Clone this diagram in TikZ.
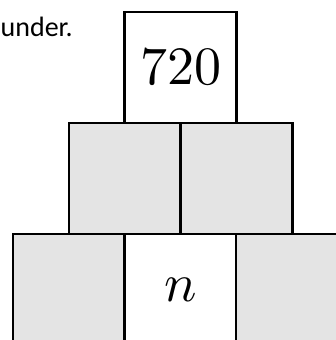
\documentclass[tikz,border=0pt]{standalone}
\usepackage{fontspec}
\usepackage{graphicx}
\usepackage{xcolor}
\newfontfamily\calfont{Carlito}
\definecolor{cellgrey}{HTML}{E4E4E4}
\newcommand{\cellmath}[1]{\scalebox{5.4}{$#1$}}
\usetikzlibrary{positioning}

\begin{document}
\begin{tikzpicture}[
      x=1pt, y=-1pt,
      cell/.style={draw, line width=2.6pt, minimum width=112pt,
                   minimum height=111pt, inner sep=0pt, outer sep=0pt},
      shaded/.style={cell, fill=cellgrey},
      plain/.style={cell, fill=white}]

    \useasboundingbox (0,0) rectangle (336,340);
    \clip (0,0) rectangle (336,340);

    % tail of the sentence above
    \node[anchor=base west, inner sep=0pt, font=\calfont\fontsize{28}{34}\selectfont]
      (txt) at (0.5,36) {under.};

    % bottom row
    \node[shaded] (b1) at (69,289.5) {};
    \node[plain]  (b2) at (180.5,289.5) {\cellmath{n}};
    \node[shaded] (b3) at (292,289.5) {};

    % middle row
    \node[shaded] (m1) at (125,178.5) {};
    \node[shaded] (m2) at (236.5,178.5) {};

    % top
    \node[plain] (top) at (180.5,67.5) {\cellmath{720}};
  \end{tikzpicture}
\end{document}
